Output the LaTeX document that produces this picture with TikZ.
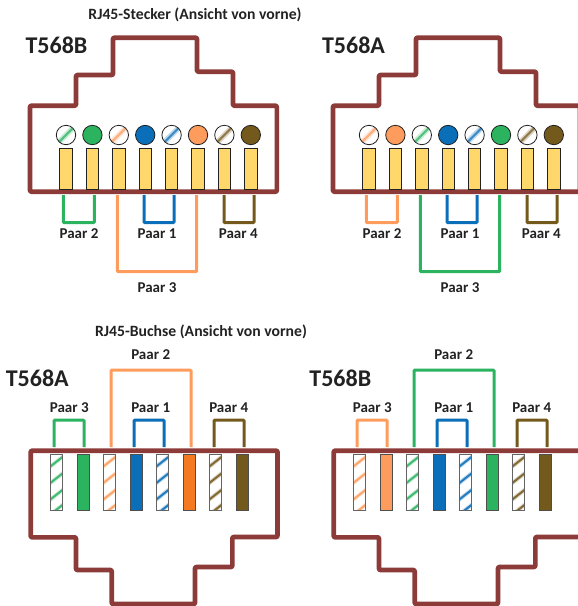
\documentclass[tikz,border=0pt]{standalone}
\usepackage{fontspec}
\setmainfont{Carlito}
\usepackage{xcolor}
\usetikzlibrary{calc}
\definecolor{rjred}{HTML}{8C3B38}
\definecolor{rjgreen}{HTML}{2BB35F}
\definecolor{rjblue}{HTML}{0B6EB8}
\definecolor{rjorange}{HTML}{FD9C5C}
\definecolor{rjdeep}{HTML}{F47920}
\definecolor{rjbrown}{HTML}{74591C}
\definecolor{rjyellow}{HTML}{FFD76A}
\definecolor{rjtext}{HTML}{222222}
\tikzset{
  gehaeuse/.style={draw=rjred, line width=4.6pt, rounded corners=1pt, line join=round},
  paarline/.style={draw=#1, line width=3pt, rounded corners=1pt},
  rundvoll/.style={circle, draw=rjtext, line width=0.8pt, fill=#1, minimum size=19.4pt, inner sep=0pt},
  rundweiss/.style={circle, draw=rjtext, line width=0.8pt, fill=white, minimum size=19.4pt, inner sep=0pt,
    path picture={
      \draw[#1!25, line width=5.5pt] ($(path picture bounding box.center)+(-10,10)$) -- ($(path picture bounding box.center)+(10,-10)$);
      \draw[#1!80, line width=2.2pt] ($(path picture bounding box.center)+(-10,10)$) -- ($(path picture bounding box.center)+(10,-10)$);
    }},
  kontakt/.style={rectangle, draw=rjtext, line width=0.9pt, fill=rjyellow, minimum width=12.4pt, minimum height=41pt, inner sep=0pt},
  adervoll/.style={rectangle, draw=rjtext!80, line width=1pt, fill=#1, minimum width=12.4pt, minimum height=56pt, inner sep=0pt},
  aderweiss/.style={rectangle, draw=rjtext!70, line width=1pt, fill=white, minimum width=12.4pt, minimum height=56pt, inner sep=0pt,
    path picture={
      \foreach \v in {-21,-4.5,12,27} {
        \draw[#1!25, line width=4pt] ($(path picture bounding box.center)+(-7,\v+5.5)$) -- ($(path picture bounding box.center)+(7,\v-5.5)$);
        \draw[#1!90, line width=2pt] ($(path picture bounding box.center)+(-7,\v+5.5)$) -- ($(path picture bounding box.center)+(7,\v-5.5)$);
      }
    }},
  paarlabel/.style={font=\fontsize{15}{17}\selectfont\bfseries, text=rjtext, inner sep=0pt},
  titel/.style={font=\fontsize{15.7}{18}\selectfont\bfseries, text=rjtext, inner sep=0pt},
  norm/.style={font=\fontsize{24}{27}\selectfont\bfseries, text=rjtext, inner sep=0pt}
}
\begin{document}
\begin{tikzpicture}[x=1pt, y=-1pt]
  \useasboundingbox (0,0) rectangle (578,606);
  \node[titel] (steckertitel) at (195,15) {RJ45-Stecker (Ansicht von vorne)};
  \node[titel] (buchsetitel) at (201,332) {RJ45-Buchse (Ansicht von vorne)};

  % Stecker
  \foreach \s/\dx/\nx/\nrm/\ca/\cb in {sb/0/56.5/T568B/rjgreen/rjorange, sa/303/50.5/T568A/rjorange/rjgreen} {
    \begin{scope}[xshift=\dx pt, name prefix=\s-]
      \node[norm] (norm) at (\nx,45) {\nrm};
      \draw[gehaeuse] (30,105.7) -| (76,75) -| (113,37.7) -| (197,71.7) -| (233,105.7)
        -| (276.8,191.7) -- (30,191.7) -- cycle;
      \foreach \i/\rund/\farbe in {1/rundweiss/\ca, 2/rundvoll/\ca, 3/rundweiss/\cb, 4/rundvoll/rjblue,
          5/rundweiss/rjblue, 6/rundvoll/\cb, 7/rundweiss/rjbrown, 8/rundvoll/rjbrown} {
        \node[\rund=\farbe] (r\i) at ({66+26.4*(\i-1)},135) {};
        \node[kontakt] (k\i) at ({66+26.4*(\i-1)},168.8) {};
      }
      \coordinate (p2a) at (63.3,195);
      \coordinate (p2b) at (94.3,195);
      \coordinate (p3a) at (117.3,195);
      \coordinate (p3b) at (196.7,195);
      \coordinate (p1a) at (144,195);
      \coordinate (p1b) at (174,195);
      \coordinate (p4a) at (224,195);
      \coordinate (p4b) at (254,195);
      \draw[paarline=\ca] (p2a) -- ++(0,27.7) -| (p2b);
      \draw[paarline=\cb] (p3a) -- ++(0,76.7) -| (p3b);
      \draw[paarline=rjblue] (p1a) -- ++(0,27.7) -| (p1b);
      \draw[paarline=rjbrown] (p4a) -- ++(0,27.7) -| (p4b);
      \node[paarlabel] (l2) at (79,234) {Paar 2};
      \node[paarlabel] (l1) at (157,234) {Paar 1};
      \node[paarlabel] (l4) at (238.3,234) {Paar 4};
      \node[paarlabel] (l3) at (157,288) {Paar 3};
    \end{scope}
  }

  % Buchse
  \foreach \s/\dx/\nrm/\ca/\cb/\cc in {ba/0/T568A/rjgreen/rjorange/rjdeep, bb/303/T568B/rjorange/rjgreen/rjgreen} {
    \begin{scope}[xshift=\dx pt, name prefix=\s-]
      \node[norm] (norm) at (37.3,378) {\nrm};
      \draw[gehaeuse] (30.7,450.7) -| (277.5,537) -| (232.3,567) -| (195,604) -| (111.7,570)
        -| (76,537.3) -- (30.7,537.3) -- cycle;
      \foreach \i/\ader/\farbe in {1/aderweiss/\ca, 2/adervoll/\ca, 3/aderweiss/\cb, 4/adervoll/rjblue,
          5/aderweiss/rjblue, 6/adervoll/\cc, 7/aderweiss/rjbrown, 8/adervoll/rjbrown} {
        \node[\ader=\farbe] (a\i) at ({56.7+26.5*(\i-1)},482.5) {};
      }
      \coordinate (p3a) at (54,447);
      \coordinate (p3b) at (84,447);
      \coordinate (p2a) at (111,447);
      \coordinate (p2b) at (191,447);
      \coordinate (p1a) at (134,447);
      \coordinate (p1b) at (164,447);
      \coordinate (p4a) at (214,447);
      \coordinate (p4b) at (244,447);
      \draw[paarline=\ca] (p3a) -- ++(0,-27) -| (p3b);
      \draw[paarline=\cb] (p2a) -- ++(0,-77) -| (p2b);
      \draw[paarline=rjblue] (p1a) -- ++(0,-27) -| (p1b);
      \draw[paarline=rjbrown] (p4a) -- ++(0,-27) -| (p4b);
      \node[paarlabel] (l3) at (69.3,408) {Paar 3};
      \node[paarlabel] (l1) at (150.7,408) {Paar 1};
      \node[paarlabel] (l4) at (228.7,408) {Paar 4};
      \node[paarlabel] (l2) at (150.7,355) {Paar 2};
    \end{scope}
  }
\end{tikzpicture}
\end{document}
